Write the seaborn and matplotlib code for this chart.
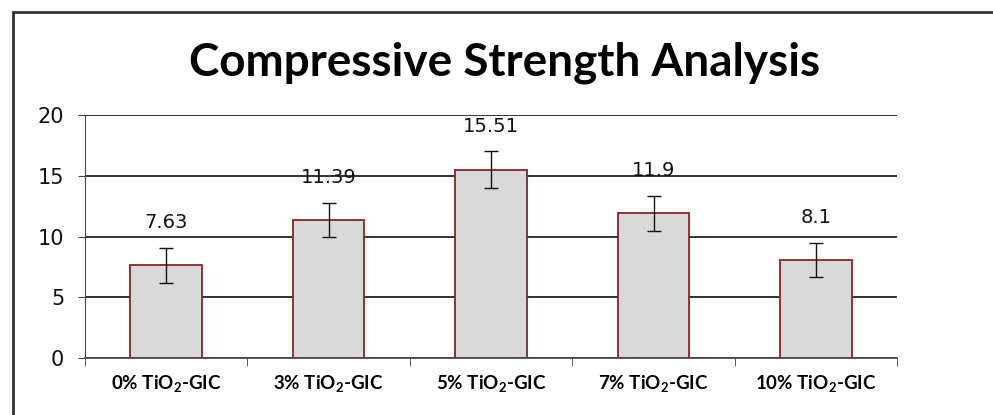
import matplotlib
matplotlib.use("Agg")
import matplotlib.pyplot as plt
import numpy as np
import pandas as pd
import seaborn as sns
from matplotlib.lines import Line2D

categories = ["0% TiO$_2$-GIC", "3% TiO$_2$-GIC", "5% TiO$_2$-GIC",
              "7% TiO$_2$-GIC", "10% TiO$_2$-GIC"]
strength = [7.63, 11.39, 15.51, 11.9, 8.1]
errors = [1.45, 1.4, 1.5, 1.45, 1.4]
value_labels = ["7.63", "11.39", "15.51", "11.9", "8.1"]
y_ticks = [0, 5, 10, 15, 20]


def main() -> None:
    sns.set_style("white")
    plt.rcParams["mathtext.fontset"] = "custom"
    plt.rcParams["mathtext.rm"] = "Lato:bold"
    plt.rcParams["mathtext.it"] = "Lato:bold"

    df = pd.DataFrame({"group": categories, "strength": strength})

    fig = plt.figure(figsize=(9.93, 4.15), dpi=100)
    ax = fig.add_axes([0.0856, 0.137, 0.818, 0.586])

    sns.barplot(data=df, x="group", y="strength", ax=ax, width=0.44,
                color="#d9d9d9", edgecolor="#8b2323", linewidth=1.3,
                errorbar=None, saturation=1)
    x = np.arange(len(categories))
    ax.errorbar(x, strength, yerr=errors, fmt="none", ecolor="#111111",
                elinewidth=1.0, capsize=5, capthick=1.0)

    for xi, val, lab in zip(x, strength, value_labels):
        ax.text(xi, val + 3.5, lab, ha="center", va="center",
                fontsize=14, color="#111111", family="DejaVu Sans")

    ax.set_ylim(0, 20)
    ax.set_xlim(-0.5, len(categories) - 0.5)
    ax.set_yticks(y_ticks)
    ax.set_yticklabels([str(t) for t in y_ticks], fontsize=15, color="#111111")
    ax.yaxis.grid(True, color="#222222", linewidth=1.3)
    ax.set_axisbelow(True)

    ax.set_xticks(x)
    ax.set_xticklabels(categories, fontsize=13.5, fontweight="bold", family="Lato",
                       color="#000000")
    ax.set_xticks(np.arange(-0.5, len(categories)), minor=True)
    ax.tick_params(axis="x", which="major", length=0, pad=11)
    ax.tick_params(axis="x", which="minor", length=6, color="#444444", direction="out", bottom=True)
    ax.tick_params(axis="y", length=5, color="#444444", left=True, pad=10)
    ax.set_xlabel("")
    ax.set_ylabel("")

    for side in ["top", "right"]:
        ax.spines[side].set_visible(False)
    ax.spines["left"].set_color("#444444")
    ax.spines["bottom"].set_color("#444444")
    ax.spines["bottom"].set_linewidth(1.2)

    fig.text(0.508, 0.85, "Compressive Strength Analysis", ha="center", va="center",
             fontsize=33, fontweight="bold", family="Lato", color="#000000")

    # outer frame like the pasted chart border
    fig.add_artist(Line2D([13 / 993, 13 / 993], [0, 1 - 12 / 415],
                          transform=fig.transFigure, color="#333333", lw=2))
    fig.add_artist(Line2D([13 / 993, 1], [1 - 12 / 415, 1 - 12 / 415],
                          transform=fig.transFigure, color="#333333", lw=2))

    fig.savefig("out.png", dpi=100)


if __name__ == "__main__":
    main()
